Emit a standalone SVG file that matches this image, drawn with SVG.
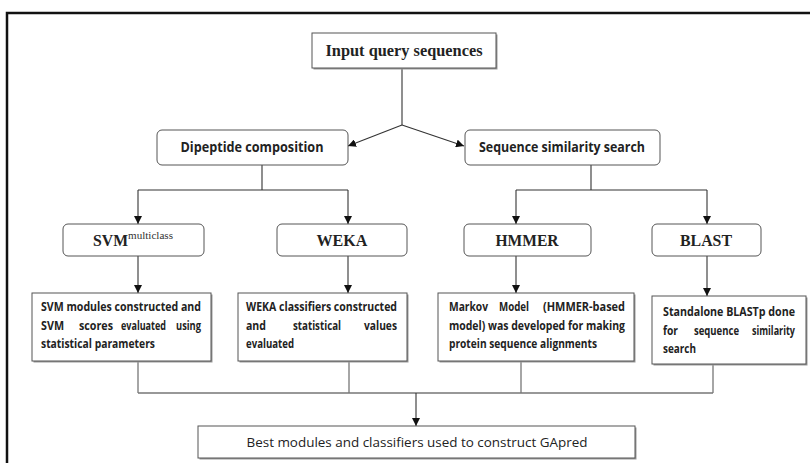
<svg xmlns="http://www.w3.org/2000/svg" width="810" height="463" viewBox="0 0 810 463">
<defs>
<style>
.box{fill:#fff;stroke:#555;stroke-width:1}
.shadow{fill:#999}
.ln{fill:none;stroke:#333;stroke-width:1.1}
.ln2{fill:none;stroke:#777;stroke-width:1.3}
.ser{font-family:"Liberation Serif","Times New Roman",serif;font-weight:bold;fill:#222}
.sans{font-family:"Open Sans","Liberation Sans",sans-serif;font-weight:bold;fill:#222}
.t12{font-size:11.5px}
</style>
<marker id="ah" viewBox="0 0 10 10" refX="10" refY="5" markerWidth="8" markerHeight="8" markerUnits="userSpaceOnUse" orient="auto">
<path d="M0,0 L10,5 L0,10 z" fill="#111"/>
</marker>
</defs>
<rect width="810" height="463" fill="#fff"/>
<path d="M7,463 V13 H810" fill="none" stroke="#111" stroke-width="2.5"/>

<g id="connectors">
<path class="ln" d="M402,68 V125"/>
<path class="ln" d="M402,125 L348,146" marker-end="url(#ah)"/>
<path class="ln" d="M402,125 L464,146" marker-end="url(#ah)"/>
<path class="ln" d="M262,165 V190 M138,190 H348"/>
<path class="ln" d="M138,190 V224" marker-end="url(#ah)"/>
<path class="ln" d="M348,190 V224" marker-end="url(#ah)"/>
<path class="ln" d="M591,165 V190 M516,190 H707"/>
<path class="ln" d="M516,190 V224" marker-end="url(#ah)"/>
<path class="ln" d="M707,190 V224" marker-end="url(#ah)"/>
<path class="ln" d="M138,256 V293" marker-end="url(#ah)"/>
<path class="ln" d="M348,256 V293" marker-end="url(#ah)"/>
<path class="ln" d="M516,256 V293" marker-end="url(#ah)"/>
<path class="ln" d="M707,256 V296" marker-end="url(#ah)"/>
<path class="ln2" d="M138,361 V393 M349,361 V393 M521,361 V393 M713,365 V393 M138,393 H713"/>
<path class="ln" d="M416,393 V426" marker-end="url(#ah)"/>
</g>

<g id="input">
<rect class="shadow" x="313.5" y="34.5" width="184" height="35"/>
<rect class="box" x="312" y="33" width="184" height="35"/>
<text class="ser" x="404" y="56" font-size="16" text-anchor="middle" textLength="157" lengthAdjust="spacingAndGlyphs">Input query sequences</text>
</g>

<g id="dipeptide">
<rect class="box" x="157" y="130" width="191" height="35" rx="5"/>
<text class="sans" x="252" y="152" font-size="13.5" text-anchor="middle" textLength="143" lengthAdjust="spacingAndGlyphs">Dipeptide composition</text>
</g>

<g id="similarity">
<rect class="box" x="465" y="130" width="195" height="35" rx="5"/>
<text class="sans" x="562" y="152" font-size="13.5" text-anchor="middle" textLength="166" lengthAdjust="spacingAndGlyphs">Sequence similarity search</text>
</g>

<g id="svm">
<rect class="box" x="63" y="224" width="141" height="32" rx="5"/>
<text class="ser" x="93" y="246" font-size="17" textLength="35" lengthAdjust="spacingAndGlyphs">SVM</text>
<text x="128" y="239" font-family="Liberation Serif, serif" font-size="10" fill="#333" textLength="45" lengthAdjust="spacingAndGlyphs">multiclass</text>
</g>

<g id="weka">
<rect class="box" x="277" y="224" width="130" height="32" rx="5"/>
<text class="ser" x="342" y="246" font-size="17" text-anchor="middle" textLength="51" lengthAdjust="spacingAndGlyphs">WEKA</text>
</g>

<g id="hmmer">
<rect class="box" x="464" y="224" width="127" height="32" rx="5"/>
<text class="ser" x="527" y="246" font-size="17" text-anchor="middle" textLength="63" lengthAdjust="spacingAndGlyphs">HMMER</text>
</g>

<g id="blast">
<rect class="box" x="652" y="224" width="109" height="32" rx="5"/>
<text class="ser" x="706" y="246" font-size="17" text-anchor="middle" textLength="52" lengthAdjust="spacingAndGlyphs">BLAST</text>
</g>

<g id="svm-desc">
<rect class="shadow" x="33.5" y="294.5" width="179" height="68"/>
<rect class="box" x="32" y="293" width="179" height="68"/>
<text class="sans t12" x="41" y="311" textLength="160" lengthAdjust="spacingAndGlyphs">SVM modules constructed and</text>
<text class="sans t12" x="41" y="330" textLength="23" lengthAdjust="spacingAndGlyphs">SVM</text>
<text class="sans t12" x="79" y="330" textLength="34" lengthAdjust="spacingAndGlyphs">scores</text>
<text class="sans t12" x="121" y="330" textLength="45" lengthAdjust="spacingAndGlyphs">evaluated</text>
<text class="sans t12" x="176" y="330" textLength="25" lengthAdjust="spacingAndGlyphs">using</text>
<text class="sans t12" x="41" y="348" textLength="114" lengthAdjust="spacingAndGlyphs">statistical parameters</text>
</g>

<g id="weka-desc">
<rect class="shadow" x="239.5" y="294.5" width="169" height="68"/>
<rect class="box" x="238" y="293" width="169" height="68"/>
<text class="sans t12" x="246" y="311" textLength="151" lengthAdjust="spacingAndGlyphs">WEKA classifiers constructed</text>
<text class="sans t12" x="246" y="330" textLength="20" lengthAdjust="spacingAndGlyphs">and</text>
<text class="sans t12" x="293" y="330" textLength="48" lengthAdjust="spacingAndGlyphs">statistical</text>
<text class="sans t12" x="364" y="330" textLength="33" lengthAdjust="spacingAndGlyphs">values</text>
<text class="sans t12" x="246" y="348" textLength="48" lengthAdjust="spacingAndGlyphs">evaluated</text>
</g>

<g id="hmmer-desc">
<rect class="shadow" x="439.5" y="294.5" width="196" height="68"/>
<rect class="box" x="438" y="293" width="196" height="68"/>
<text class="sans t12" x="449" y="311" textLength="39" lengthAdjust="spacingAndGlyphs">Markov</text>
<text class="sans t12" x="499" y="311" textLength="30" lengthAdjust="spacingAndGlyphs">Model</text>
<text class="sans t12" x="543" y="311" textLength="82" lengthAdjust="spacingAndGlyphs">(HMMER-based</text>
<text class="sans t12" x="449" y="330" textLength="176" lengthAdjust="spacingAndGlyphs">model) was developed for making</text>
<text class="sans t12" x="449" y="348" textLength="148" lengthAdjust="spacingAndGlyphs">protein sequence alignments</text>
</g>

<g id="blast-desc">
<rect class="shadow" x="653.5" y="297.5" width="154" height="68"/>
<rect class="box" x="652" y="296" width="154" height="68"/>
<text class="sans t12" x="663" y="316" textLength="132" lengthAdjust="spacingAndGlyphs">Standalone BLASTp done</text>
<text class="sans t12" x="663" y="335" textLength="15" lengthAdjust="spacingAndGlyphs">for</text>
<text class="sans t12" x="694" y="335" textLength="45" lengthAdjust="spacingAndGlyphs">sequence</text>
<text class="sans t12" x="752" y="335" textLength="43" lengthAdjust="spacingAndGlyphs">similarity</text>
<text class="sans t12" x="663" y="353" textLength="33" lengthAdjust="spacingAndGlyphs">search</text>
</g>

<g id="gapred">
<rect class="shadow" x="199.5" y="427.5" width="437" height="32"/>
<rect class="box" x="198" y="426" width="437" height="32"/>
<text x="417" y="447" font-family="Open Sans, Liberation Sans, sans-serif" font-size="13.5" fill="#222" text-anchor="middle" textLength="341" lengthAdjust="spacingAndGlyphs">Best modules and classifiers used to construct GApred</text>
</g>
</svg>
